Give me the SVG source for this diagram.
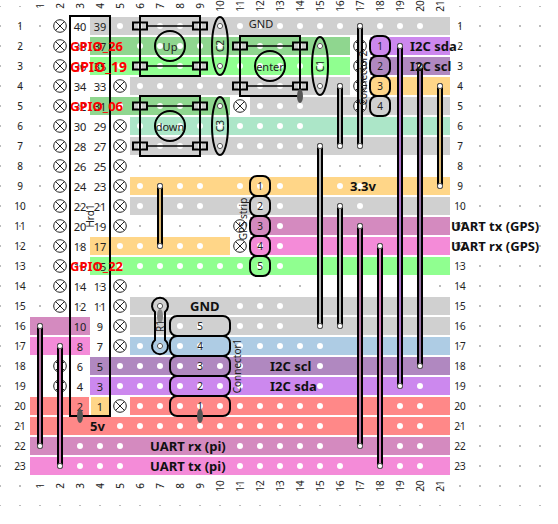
<svg xmlns="http://www.w3.org/2000/svg" width="558" height="524" viewBox="0 0 558 524">
<style>
text{font-family:"Noto Sans","DejaVu Sans",sans-serif;font-size:10px;fill:#222;text-anchor:middle;dominant-baseline:central}
.b{font-weight:700;font-size:13px;fill:#111;text-anchor:start}
.g{font-weight:700;font-size:13px;fill:#f00;text-anchor:start}
.n{font-size:11px}
.o{fill:none;stroke:#000;stroke-width:2}
.w{fill:none;stroke:#000;stroke-width:6;stroke-linecap:round}
.i{fill:none;stroke-width:1.7;stroke-linecap:round}
.h{fill:none;stroke:#fff;stroke-width:6;stroke-linecap:round}
.e{fill:#fff;stroke:#555;stroke-width:1}
.gy{fill:#d0d0d0}.gr{fill:#8fd68f}.lg{fill:#90ff90}.te{fill:#ace6c8}.or{fill:#ffd688}.dp{fill:#d48abf}.pk{fill:#f48bd8}.bl{fill:#aecce4}.dv{fill:#b088c0}.pu{fill:#cc88ee}.re{fill:#ff8888}
</style>
<defs>
<g id="x"><circle r="6.3" fill="#fff" stroke="#222" stroke-width="1"/><path d="M-4.4-4.4 4.4 4.4M-4.4 4.4 4.4-4.4" stroke="#222" stroke-width="1"/></g>
<g id="p"><rect x="-7" y="-3.5" width="14" height="7" fill="#ccc" stroke="#000" stroke-width="2"/><rect x="-2" y="-2.5" width="4" height="5" fill="#fff" opacity=".6"/></g>
<circle id="e" r="2.6" class="e"/>
</defs>
<path id="grid" d="M0 6V506M20 6V506M40 6V506M60 6V506M80 6V506M100 6V506M120 6V506M140 6V506M160 6V506M180 6V506M200 6V506M220 6V506M240 6V506M260 6V506M280 6V506M300 6V506M320 6V506M340 6V506M360 6V506M380 6V506M400 6V506M420 6V506M440 6V506M460 6V506M480 6V506M500 6V506M520 6V506M540 6V506" stroke="#222" stroke-width="1.2" stroke-dasharray="1.2 18.8" stroke-dashoffset=".6" fill="none"/>
<g id="strips">
<rect class="gy" x="90" y="17" width="360" height="18"/>
<rect class="gr" x="90" y="37" width="260" height="18"/><rect class="pu" x="370" y="37" width="80" height="18"/>
<rect class="lg" x="90" y="57" width="260" height="18"/><rect class="dv" x="370" y="57" width="80" height="18"/>
<rect class="gy" x="130" y="77" width="220" height="18"/><rect class="or" x="370" y="77" width="80" height="18"/>
<rect class="gr" x="90" y="97" width="140" height="18"/><rect class="gy" x="250" y="97" width="200" height="18"/>
<rect class="te" x="130" y="117" width="320" height="18"/>
<rect class="gy" x="130" y="137" width="320" height="18"/>
<rect class="or" x="130" y="177" width="320" height="18"/>
<rect class="gy" x="130" y="197" width="320" height="18"/>
<rect class="dp" x="250" y="217" width="200" height="18"/>
<rect class="or" x="90" y="237" width="140" height="18"/><rect class="pk" x="250" y="237" width="200" height="18"/>
<rect class="lg" x="90" y="257" width="360" height="18"/>
<rect class="gy" x="130" y="297" width="320" height="18"/>
<rect class="dp" x="30" y="317" width="60" height="18"/><rect class="gy" x="130" y="317" width="320" height="18"/>
<rect class="pk" x="30" y="337" width="60" height="18"/><rect class="bl" x="130" y="337" width="320" height="18"/>
<rect class="dv" x="90" y="357" width="360" height="18"/>
<rect class="pu" x="90" y="377" width="360" height="18"/>
<rect class="re" x="30" y="397" width="59" height="18"/><rect class="or" x="91" y="397" width="19" height="18"/><rect class="re" x="130" y="397" width="320" height="18"/>
<rect class="re" x="30" y="417" width="420" height="18"/>
<rect class="dp" x="30" y="437" width="420" height="18"/>
<rect class="pk" x="30" y="457" width="420" height="18"/>
</g>
<path id="holes" class="h" d="M120 26H440M120 46h0M140 46H340M380 46h0M120 66H340M380 66h0M140 86H340M380 86h0M440 86h0M120 106H220M260 106H320M380 106h0M140 126H320M380 126h0M140 146H320M380 146h0M140 186H220M240 186H300M340 186H380M440 186h0M140 206H220M240 206H300M340 206H380M440 206h0M280 226H300M380 226h0M440 226h0M120 246H220M260 246H300M440 246h0M120 266H300M440 266h0M140 306h0M180 306h0M240 306H300M440 306h0M60 326h0M140 326h0M180 326H220M240 326H300M440 326h0M140 346H220M240 346H340M440 346h0M120 366H260M320 366H340M440 366h0M120 386H260M320 386H340M420 386H440M80 406h0M140 406H340M400 406H440M80 426h0M120 426H340M400 426H440M80 446H140M240 446H340M400 446H440M40 466h0M80 466H140M240 466H360M400 466H440" stroke-dasharray="0 20"/>
<g id="xs">
<use href="#x" x="60" y="26"/><use href="#x" x="60" y="46"/><use href="#x" x="60" y="66"/><use href="#x" x="60" y="86"/><use href="#x" x="60" y="106"/><use href="#x" x="60" y="126"/><use href="#x" x="60" y="146"/><use href="#x" x="60" y="166"/><use href="#x" x="60" y="186"/><use href="#x" x="60" y="206"/><use href="#x" x="60" y="226"/><use href="#x" x="60" y="246"/><use href="#x" x="60" y="266"/><use href="#x" x="60" y="286"/><use href="#x" x="60" y="306"/><use href="#x" x="60" y="366"/><use href="#x" x="60" y="386"/>
<use href="#x" x="120" y="86"/><use href="#x" x="120" y="126"/><use href="#x" x="120" y="146"/><use href="#x" x="120" y="166"/><use href="#x" x="120" y="186"/><use href="#x" x="120" y="206"/><use href="#x" x="120" y="226"/><use href="#x" x="120" y="286"/><use href="#x" x="120" y="306"/><use href="#x" x="120" y="326"/><use href="#x" x="120" y="346"/><use href="#x" x="120" y="406"/>
<use href="#x" x="240" y="106"/><use href="#x" x="240" y="226"/><use href="#x" x="240" y="246"/>
<use href="#x" x="360" y="46"/><use href="#x" x="360" y="66"/><use href="#x" x="360" y="86"/><use href="#x" x="360" y="106"/>
</g>
<g id="rowlabels" class="n">
<text x="20" y="26">1</text><text x="20" y="46">2</text><text x="20" y="66">3</text><text x="20" y="86">4</text><text x="20" y="106">5</text><text x="20" y="126">6</text><text x="20" y="146">7</text><text x="20" y="166">8</text><text x="20" y="186">9</text><text x="20" y="206">10</text><text x="20" y="226">11</text><text x="20" y="246">12</text><text x="20" y="266">13</text><text x="20" y="286">14</text><text x="20" y="306">15</text><text x="20" y="326">16</text><text x="20" y="346">17</text><text x="20" y="366">18</text><text x="20" y="386">19</text><text x="20" y="406">20</text><text x="20" y="426">21</text><text x="20" y="446">22</text><text x="20" y="466">23</text>
<text x="460" y="26">1</text><text x="460" y="46">2</text><text x="460" y="66">3</text><text x="460" y="86">4</text><text x="460" y="106">5</text><text x="460" y="126">6</text><text x="460" y="146">7</text><text x="460" y="166">8</text><text x="460" y="186">9</text><text x="460" y="206">10</text><text x="460" y="226">11</text><text x="460" y="246">12</text><text x="460" y="266">13</text><text x="460" y="286">14</text><text x="460" y="306">15</text><text x="460" y="326">16</text><text x="460" y="346">17</text><text x="460" y="366">18</text><text x="460" y="386">19</text><text x="460" y="406">20</text><text x="460" y="426">21</text><text x="460" y="446">22</text><text x="460" y="466">23</text>
</g>
<g id="collabels">
<text transform="translate(40 6) rotate(-90)">1</text><text transform="translate(60 6) rotate(-90)">2</text><text transform="translate(80 6) rotate(-90)">3</text><text transform="translate(100 6) rotate(-90)">4</text><text transform="translate(120 6) rotate(-90)">5</text><text transform="translate(140 6) rotate(-90)">6</text><text transform="translate(160 6) rotate(-90)">7</text><text transform="translate(180 6) rotate(-90)">8</text><text transform="translate(200 6) rotate(-90)">9</text><text transform="translate(220 6) rotate(-90)">10</text><text transform="translate(240 6) rotate(-90)">11</text><text transform="translate(260 6) rotate(-90)">12</text><text transform="translate(280 6) rotate(-90)">13</text><text transform="translate(300 6) rotate(-90)">14</text><text transform="translate(320 6) rotate(-90)">15</text><text transform="translate(340 6) rotate(-90)">16</text><text transform="translate(360 6) rotate(-90)">17</text><text transform="translate(380 6) rotate(-90)">18</text><text transform="translate(400 6) rotate(-90)">19</text><text transform="translate(420 6) rotate(-90)">20</text><text transform="translate(440 6) rotate(-90)">21</text>
<text transform="translate(40 486) rotate(-90)">1</text><text transform="translate(60 486) rotate(-90)">2</text><text transform="translate(80 486) rotate(-90)">3</text><text transform="translate(100 486) rotate(-90)">4</text><text transform="translate(120 486) rotate(-90)">5</text><text transform="translate(140 486) rotate(-90)">6</text><text transform="translate(160 486) rotate(-90)">7</text><text transform="translate(180 486) rotate(-90)">8</text><text transform="translate(200 486) rotate(-90)">9</text><text transform="translate(220 486) rotate(-90)">10</text><text transform="translate(240 486) rotate(-90)">11</text><text transform="translate(260 486) rotate(-90)">12</text><text transform="translate(280 486) rotate(-90)">13</text><text transform="translate(300 486) rotate(-90)">14</text><text transform="translate(320 486) rotate(-90)">15</text><text transform="translate(340 486) rotate(-90)">16</text><text transform="translate(360 486) rotate(-90)">17</text><text transform="translate(380 486) rotate(-90)">18</text><text transform="translate(400 486) rotate(-90)">19</text><text transform="translate(420 486) rotate(-90)">20</text><text transform="translate(440 486) rotate(-90)">21</text>
</g>
<g id="Hrd1">
<rect class="o" x="70" y="16" width="40" height="400"/>
<text class="n" x="80" y="26">40</text><text class="n" x="100" y="26">39</text><text class="n" x="80" y="46">38</text><text class="n" x="100" y="46">37</text><text class="n" x="80" y="66">36</text><text class="n" x="100" y="66">35</text><text class="n" x="80" y="86">34</text><text class="n" x="100" y="86">33</text><text class="n" x="80" y="106">32</text><text class="n" x="100" y="106">31</text><text class="n" x="80" y="126">30</text><text class="n" x="100" y="126">29</text><text class="n" x="80" y="146">28</text><text class="n" x="100" y="146">27</text><text class="n" x="80" y="166">26</text><text class="n" x="100" y="166">25</text><text class="n" x="80" y="186">24</text><text class="n" x="100" y="186">23</text><text class="n" x="80" y="206">22</text><text class="n" x="100" y="206">21</text><text class="n" x="80" y="226">20</text><text class="n" x="100" y="226">19</text><text class="n" x="80" y="246">18</text><text class="n" x="100" y="246">17</text><text class="n" x="80" y="266">16</text><text class="n" x="100" y="266">15</text><text class="n" x="80" y="286">14</text><text class="n" x="100" y="286">13</text><text class="n" x="80" y="306">12</text><text class="n" x="100" y="306">11</text><text class="n" x="80" y="326">10</text><text class="n" x="100" y="326">9</text><text class="n" x="80" y="346">8</text><text class="n" x="100" y="346">7</text><text class="n" x="80" y="366">6</text><text class="n" x="100" y="366">5</text><text class="n" x="80" y="386">4</text><text class="n" x="100" y="386">3</text><text class="n" x="80" y="406">2</text><text class="n" x="100" y="406">1</text>
<text transform="translate(90 216) rotate(-90)">Hrd1</text>
<ellipse cx="80" cy="416" rx="3" ry="7" fill="#555"/>
</g>
<g id="connectors">
<path class="w" d="M40 326V446M60 346V466M160 186V246M320 146V326M340 206V326M340 86V146M360 26V146M360 226V446M380 246V466M400 46V386M420 66V366M440 86V186"/>
<path class="i" stroke="#d48abf" d="M40 326V446M360 226V446"/><path class="i" stroke="#f48bd8" d="M60 346V466M380 246V466"/><path class="i" stroke="#ffd688" d="M160 186V246M440 86V186"/><path class="i" stroke="#d0d0d0" d="M320 146V326M340 206V326M340 86V146M360 26V146"/><path class="i" stroke="#cc88ee" d="M400 46V386"/><path class="i" stroke="#b088c0" d="M420 66V366"/>
<use href="#e" x="40" y="326"/><use href="#e" x="40" y="446"/><use href="#e" x="60" y="346"/><use href="#e" x="60" y="466"/><use href="#e" x="160" y="186"/><use href="#e" x="160" y="246"/><use href="#e" x="320" y="146"/><use href="#e" x="320" y="326"/><use href="#e" x="340" y="206"/><use href="#e" x="340" y="326"/><use href="#e" x="340" y="86"/><use href="#e" x="340" y="146"/><use href="#e" x="360" y="26"/><use href="#e" x="360" y="146"/><use href="#e" x="360" y="226"/><use href="#e" x="360" y="446"/><use href="#e" x="380" y="246"/><use href="#e" x="380" y="466"/><use href="#e" x="400" y="46"/><use href="#e" x="400" y="386"/><use href="#e" x="420" y="66"/><use href="#e" x="420" y="366"/><use href="#e" x="440" y="86"/><use href="#e" x="440" y="186"/>
</g>
<g id="up">
<path d="M140 26H200M140 66H200" stroke="#000" stroke-width="1.5"/>
<use href="#p" x="140" y="26"/><use href="#p" x="200" y="26"/><use href="#p" x="140" y="66"/><use href="#p" x="200" y="66"/>
<rect class="o" x="140" y="16" width="60" height="60"/><circle class="o" cx="170" cy="46" r="15"/><text class="n" x="170" y="46">Up</text>
</g>
<g id="down">
<path d="M140 106H200M140 146H200" stroke="#000" stroke-width="1.5"/>
<use href="#p" x="140" y="106"/><use href="#p" x="200" y="106"/><use href="#p" x="140" y="146"/><use href="#p" x="200" y="146"/>
<rect class="o" x="140" y="96" width="60" height="60"/><circle class="o" cx="170" cy="126" r="15"/><text class="n" x="170" y="126">down</text>
</g>
<g id="enter">
<path d="M240 46H300M240 86H300" stroke="#000" stroke-width="1.5"/>
<use href="#p" x="240" y="46"/><use href="#p" x="300" y="46"/><use href="#p" x="240" y="86"/><use href="#p" x="300" y="86"/>
<rect class="o" x="240" y="36" width="60" height="60"/><circle class="o" cx="270" cy="66" r="15"/><text class="n" x="270" y="66">enter</text>
<ellipse cx="300" cy="96" rx="3" ry="7" fill="#555"/>
</g>
<g id="C2"><ellipse class="o" cx="220" cy="46" rx="8" ry="29"/><use href="#e" x="220" y="26"/><use href="#e" x="220" y="66"/><text transform="translate(220 46) rotate(-90)">C2</text></g>
<g id="C3"><ellipse class="o" cx="220" cy="126" rx="8" ry="29"/><use href="#e" x="220" y="106"/><use href="#e" x="220" y="146"/><text transform="translate(220 126) rotate(-90)">C3</text></g>
<g id="C1"><ellipse class="o" cx="320" cy="66" rx="8" ry="29"/><use href="#e" x="320" y="46"/><use href="#e" x="320" y="86"/><text transform="translate(320 66) rotate(-90)">C1</text></g>
<g id="Connector2">
<rect class="o" x="370" y="36" width="20" height="20" rx="7"/><rect class="o" x="370" y="56" width="20" height="20" rx="7"/><rect class="o" x="370" y="76" width="20" height="20" rx="7"/><rect class="o" x="370" y="96" width="20" height="20" rx="7"/>
<text x="380" y="46">1</text><text x="380" y="66">2</text><text x="380" y="86">3</text><text x="380" y="106">4</text>
<text transform="translate(363 78) rotate(-90)">Connector2</text>
</g>
<g id="GPSstrip">
<rect class="o" x="250" y="176" width="20" height="20" rx="7"/><rect class="o" x="250" y="196" width="20" height="20" rx="7"/><rect class="o" x="250" y="216" width="20" height="20" rx="7"/><rect class="o" x="250" y="236" width="20" height="20" rx="7"/><rect class="o" x="250" y="256" width="20" height="20" rx="7"/>
<text x="260" y="186">1</text><text x="260" y="206">2</text><text x="260" y="226">3</text><text x="260" y="246">4</text><text x="260" y="266">5</text>
<text transform="translate(243 219) rotate(-90)">GPS strip</text>
</g>
<g id="Connector1">
<rect class="o" x="170" y="316" width="60" height="20" rx="7"/><rect class="o" x="170" y="336" width="60" height="20" rx="7"/><rect class="o" x="170" y="356" width="60" height="20" rx="7"/><rect class="o" x="170" y="376" width="60" height="20" rx="7"/><rect class="o" x="170" y="396" width="60" height="20" rx="7"/>
<text x="200" y="326">5</text><text x="200" y="346">4</text><text x="200" y="366">3</text><text x="200" y="386">2</text><text x="200" y="406">1</text>
<ellipse cx="200" cy="416" rx="3" ry="7" fill="#555"/>
<text transform="translate(237 366) rotate(-90)">Connector1</text>
</g>
<g id="R1">
<path class="o" d="M155 312A8 8 0 1 1 165 312V340A8 8 0 1 1 155 340Z"/>
<use href="#e" x="160" y="306"/><use href="#e" x="160" y="346"/>
<ellipse cx="160" cy="316" rx="3" ry="7" fill="#888"/>
<text transform="translate(160 326) rotate(-90)">R1</text>
</g>
<g id="labels">
<text class="n" x="261" y="23">GND</text>
<text class="b" x="190" y="306">GND</text>
<text class="b" x="410" y="46">I2C sda</text><text class="b" x="410" y="66">I2C scl</text>
<text class="b" x="350" y="186">3.3v</text>
<text class="b" x="451" y="226">UART tx (GPS)</text><text class="b" x="451" y="246">UART rx (GPS)</text>
<text class="b" x="270" y="366">I2C scl</text><text class="b" x="270" y="386">I2C sda</text>
<text class="b" x="90" y="426">5v</text>
<text class="b" x="150" y="446">UART rx (pi)</text><text class="b" x="150" y="466">UART tx (pi)</text>
<text class="g" x="70" y="46">GPIO_26</text><text class="g" x="70" y="66" style="font-size:14px">GPIO_19</text><text class="g" x="70" y="106">GPIO_06</text><text class="g" x="70" y="266">GPIO_22</text>
</g>
</svg>
